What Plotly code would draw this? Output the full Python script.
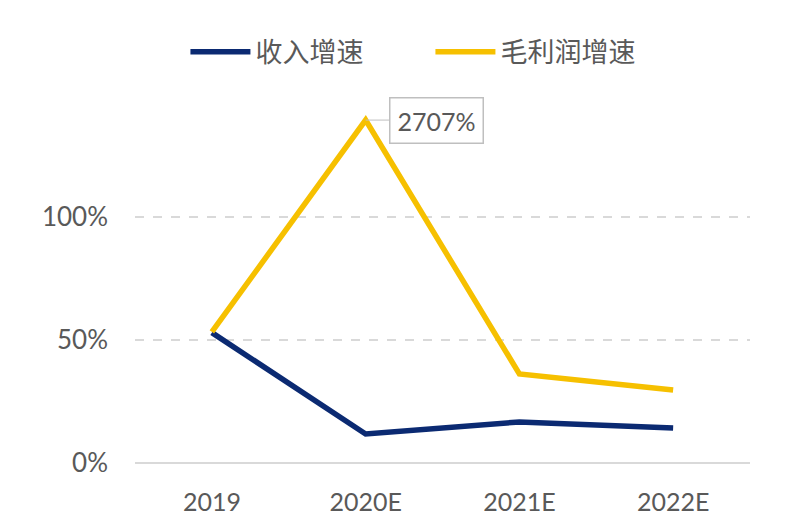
import plotly.graph_objects as go

categories = ["2019", "2020E", "2021E", "2022E"]
revenue_growth = [53.0, 11.8, 16.7, 14.2]
gross_profit_growth = [53.3, 139.4, 36.2, 29.7]
gross_label = "2707%"
y_ticks = [0, 50, 100]
y_tick_labels = ["0%", "50%", "100%"]

fig = go.Figure()
fig.add_trace(go.Scatter(x=categories, y=revenue_growth, mode="lines", name="收入增速",
                         line=dict(color="#0B2A72", width=5.5)))
fig.add_trace(go.Scatter(x=categories, y=gross_profit_growth, mode="lines", name="毛利润增速",
                         line=dict(color="#F6C000", width=5.5)))

fig.add_annotation(x=categories[1], y=gross_profit_growth[1], text=gross_label,
                   showarrow=True, arrowhead=0, arrowwidth=1, arrowcolor="#BFBFBF",
                   ax=71, ay=0, xanchor="center", yanchor="middle",
                   bordercolor="#BFBFBF", borderwidth=1.5, borderpad=7, bgcolor="white",
                   font=dict(family="Lato, Open Sans", size=25, color="#595959"))

fig.update_layout(
    width=800, height=532,
    margin=dict(l=127, r=58, t=86, b=77, autoexpand=False),
    paper_bgcolor="white", plot_bgcolor="white",
    showlegend=True,
    legend=dict(orientation="h", x=0.082, xref="paper", xanchor="left",
                y=0.917, yref="container", yanchor="middle",
                font=dict(family="Noto Sans CJK SC", size=27, color="#595959"),
                itemwidth=60, traceorder="normal", entrywidth=170),
    xaxis=dict(range=[-0.5, 3.5], showgrid=False, showline=False, zeroline=False,
               ticks="", tickfont=dict(family="Lato, Open Sans", size=25, color="#595959")),
    yaxis=dict(range=[0, 150], tickvals=y_ticks, ticktext=y_tick_labels,
               showgrid=True, gridcolor="#D9D9D9", griddash="dash", gridwidth=1.5,
               zeroline=True, zerolinecolor="#D9D9D9", zerolinewidth=2,
               showline=False, ticks="", ticklabelstandoff=26,
               tickfont=dict(family="Lato, Open Sans", size=26, color="#595959")),
)
fig.update_xaxes(ticklabelstandoff=22)

fig.write_html("out.html")
